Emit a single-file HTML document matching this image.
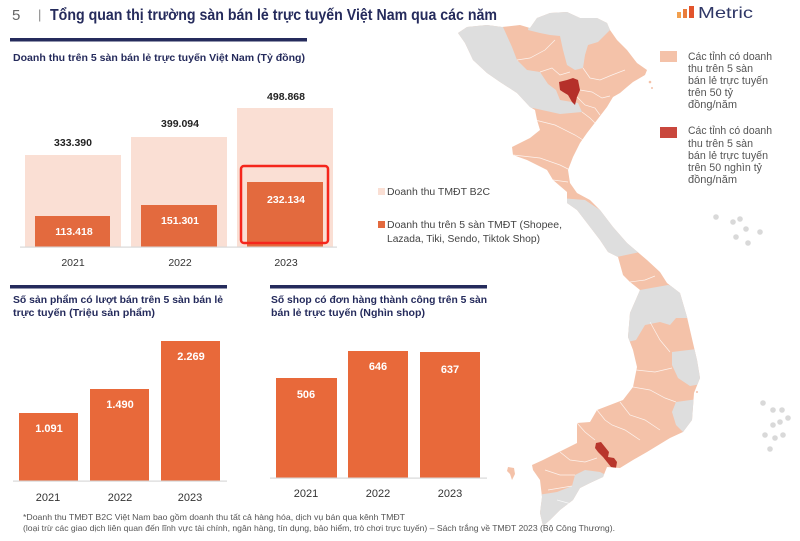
<!DOCTYPE html>
<html><head><meta charset="utf-8">
<style>
html,body{margin:0;padding:0;background:#fff;}
svg{display:block;}
text{font-family:"Liberation Sans","Noto Sans CJK SC",sans-serif;}
</style></head>
<body>
<svg width="800" height="541" viewBox="0 0 800 541" xmlns="http://www.w3.org/2000/svg">
<defs>
<clipPath id="vn">
<path id="vnpath" d="M458,33 L467,27 L487,25 L502,27 L520,25 L530,28 L537,18 L550,13 L567,12 L580,18 L597,18 L607,23 L610,30 L617,40 L627,50 L637,63 L647,70 L645,75 L633,82 L627,87 L620,93 L613,97 L607,107 L597,120 L587,133 L580,143 L573,157 L568,170 L570,183 L577,193 L590,200 L600,210 L613,227 L627,243 L647,260 L660,272 L667,283 L680,293 L687,317 L693,343 L697,360 L700,378 L694,393 L692,420 L683,432 L670,438 L647,452 L633,460 L620,468 L607,467 L603,477 L590,483 L580,488 L573,500 L560,510 L550,520 L543,526 L540,513 L542,497 L540,480 L533,470 L532,465 L543,460 L563,450 L577,443 L577,423 L590,422 L597,410 L623,400 L633,387 L637,367 L633,350 L628,337 L630,313 L637,297 L640,290 L630,282 L623,275 L618,257 L608,252 L600,240 L587,223 L577,210 L567,203 L567,192 L553,180 L547,170 L527,160 L513,155 L512,147 L530,138 L540,130 L537,120 L535,110 L530,107 L517,93 L500,82 L487,73 L473,60 L465,43 Z"/>
</clipPath>
</defs>

<!-- Header -->
<text x="12" y="20" font-size="15" fill="#666">5</text>
<text x="38" y="19" font-size="13" fill="#888">|</text>
<text x="50" y="20" font-size="16" font-weight="bold" fill="#252b5c" textLength="447" lengthAdjust="spacingAndGlyphs">Tổng quan thị trường sàn bán lẻ trực tuyến Việt Nam qua các năm</text>

<!-- Metric logo -->
<rect x="677" y="12" width="4" height="6" fill="#f2a04e"/>
<rect x="683" y="9" width="4" height="9" fill="#ea7c3a"/>
<rect x="689" y="6" width="5" height="12" fill="#e2542c"/>
<text x="698" y="18" font-size="16" fill="#2f3766" textLength="55" lengthAdjust="spacingAndGlyphs">Metric</text>

<!-- Top chart -->
<rect x="10" y="38" width="297" height="3.5" fill="#252b5c"/>
<text x="13" y="61" font-size="10.5" font-weight="bold" fill="#252b5c" textLength="292" lengthAdjust="spacingAndGlyphs">Doanh thu trên 5 sàn bán lẻ trực tuyến Việt Nam (Tỷ đồng)</text>

<rect x="25" y="155" width="96" height="92" fill="#fadfd4"/>
<rect x="131" y="137" width="96" height="110" fill="#fadfd4"/>
<rect x="237" y="108" width="96" height="139" fill="#fadfd4"/>
<rect x="35" y="216" width="75" height="31" fill="#e36a3e"/>
<rect x="141" y="205" width="76" height="42" fill="#e36a3e"/>
<rect x="247" y="182" width="76" height="65" fill="#e36a3e"/>
<rect x="20" y="246.5" width="317" height="1.2" fill="#d8d8d8"/>

<text x="73" y="146" font-size="10.5" font-weight="bold" fill="#222" text-anchor="middle">333.390</text>
<text x="180" y="127" font-size="10.5" font-weight="bold" fill="#222" text-anchor="middle">399.094</text>
<text x="286" y="100" font-size="10.5" font-weight="bold" fill="#222" text-anchor="middle">498.868</text>
<text x="74" y="235" font-size="10.5" font-weight="bold" fill="#fff" text-anchor="middle">113.418</text>
<text x="180" y="224" font-size="10.5" font-weight="bold" fill="#fff" text-anchor="middle">151.301</text>
<text x="286" y="203" font-size="10.5" font-weight="bold" fill="#fff" text-anchor="middle">232.134</text>
<text x="73" y="266" font-size="10.5" fill="#333" text-anchor="middle">2021</text>
<text x="180" y="266" font-size="10.5" fill="#333" text-anchor="middle">2022</text>
<text x="286" y="266" font-size="10.5" fill="#333" text-anchor="middle">2023</text>

<rect x="241" y="166" width="87" height="77" rx="3" fill="none" stroke="#f5261c" stroke-width="2.5"/>

<!-- mid legend -->
<rect x="378" y="188" width="7" height="7" fill="#fadfd4"/>
<text x="387" y="195" font-size="10" fill="#444" textLength="103" lengthAdjust="spacingAndGlyphs">Doanh thu TMĐT B2C</text>
<rect x="378" y="221" width="7" height="7" fill="#e36a3e"/>
<text x="387" y="228" font-size="10" fill="#444" textLength="175" lengthAdjust="spacingAndGlyphs">Doanh thu trên 5 sàn TMĐT (Shopee,</text>
<text x="387" y="242" font-size="10" fill="#444" textLength="153" lengthAdjust="spacingAndGlyphs">Lazada, Tiki, Sendo, Tiktok Shop)</text>

<!-- Bottom left chart -->
<rect x="10" y="285" width="217" height="3.5" fill="#252b5c"/>
<text x="13" y="303" font-size="10.5" font-weight="bold" fill="#252b5c" textLength="210" lengthAdjust="spacingAndGlyphs">Số sản phẩm có lượt bán trên 5 sàn bán lẻ</text>
<text x="13" y="316" font-size="10.5" font-weight="bold" fill="#252b5c" textLength="142" lengthAdjust="spacingAndGlyphs">trực tuyến (Triệu sản phẩm)</text>
<rect x="19" y="413" width="59" height="68" fill="#e8693a"/>
<rect x="90" y="389" width="59" height="92" fill="#e8693a"/>
<rect x="161" y="341" width="59" height="140" fill="#e8693a"/>
<rect x="13" y="480.5" width="214" height="1.2" fill="#d8d8d8"/>
<text x="49" y="432" font-size="11" font-weight="bold" fill="#fff" text-anchor="middle">1.091</text>
<text x="120" y="408" font-size="11" font-weight="bold" fill="#fff" text-anchor="middle">1.490</text>
<text x="191" y="360" font-size="11" font-weight="bold" fill="#fff" text-anchor="middle">2.269</text>
<text x="48" y="501" font-size="11" fill="#333" text-anchor="middle">2021</text>
<text x="120" y="501" font-size="11" fill="#333" text-anchor="middle">2022</text>
<text x="190" y="501" font-size="11" fill="#333" text-anchor="middle">2023</text>

<!-- Bottom right chart -->
<rect x="270" y="285" width="217" height="3.5" fill="#252b5c"/>
<text x="271" y="303" font-size="10.5" font-weight="bold" fill="#252b5c" textLength="216" lengthAdjust="spacingAndGlyphs">Số shop có đơn hàng thành công trên 5 sàn</text>
<text x="271" y="316" font-size="10.5" font-weight="bold" fill="#252b5c" textLength="154" lengthAdjust="spacingAndGlyphs">bán lẻ trực tuyến (Nghìn shop)</text>
<rect x="276" y="378" width="61" height="100" fill="#e8693a"/>
<rect x="348" y="351" width="60" height="127" fill="#e8693a"/>
<rect x="420" y="352" width="60" height="126" fill="#e8693a"/>
<rect x="270" y="477.5" width="217" height="1.2" fill="#d8d8d8"/>
<text x="306" y="398" font-size="11" font-weight="bold" fill="#fff" text-anchor="middle">506</text>
<text x="378" y="370" font-size="11" font-weight="bold" fill="#fff" text-anchor="middle">646</text>
<text x="450" y="373" font-size="11" font-weight="bold" fill="#fff" text-anchor="middle">637</text>
<text x="306" y="497" font-size="11" fill="#333" text-anchor="middle">2021</text>
<text x="378" y="497" font-size="11" fill="#333" text-anchor="middle">2022</text>
<text x="450" y="497" font-size="11" fill="#333" text-anchor="middle">2023</text>

<!-- Map -->
<g clip-path="url(#vn)">
  <rect x="440" y="0" width="280" height="541" fill="#f4c2a9"/>
  <polygon fill="#dedede" points="440,0 503,0 503,27 512,47 517,60 527,70 540,72 548,84 556,90 560,100 578,103 582,112 560,114 533,108 440,112"/>
  <polygon fill="#dedede" points="528,30 533,0 612,0 612,28 605,35 598,42 588,45 585,55 583,68 575,70 567,65 563,50 560,36 550,35 540,33"/>
  <polygon fill="#dedede" points="560,198 585,200 603,212 615,226 630,240 640,252 612,258 600,250 560,252"/>
  <polygon fill="#dedede" points="615,292 640,290 668,285 686,290 690,318 676,318 670,325 660,322 645,325 636,340 615,345"/>
  <polygon fill="#dedede" points="672,352 705,348 706,383 690,386 678,378 672,365"/>
  <polygon fill="#dedede" points="676,402 705,398 705,436 685,434 676,425 672,412"/>
  <polygon fill="#dedede" points="525,497 557,492 572,486 575,475 585,470 600,472 612,478 612,540 525,540"/>
  <polygon fill="#b5302a" points="559,82 567,80 573,78 578,80 580,90 577,97 575,105 572,102 568,95 563,92 560,90"/>
  <polygon fill="#b8362c" points="596,443 601,442 605,447 609,452 608,457 614,458 617,462 616,468 611,467 607,462 603,457 598,452 595,448"/>
  <g fill="none" stroke="#ffffff" stroke-width="0.7" opacity="0.8">
    <polyline points="517,60 530,58 545,50 555,40"/>
    <polyline points="540,72 552,68 560,75 570,72"/>
    <polyline points="583,68 590,78 600,80 612,75 625,70"/>
    <polyline points="580,90 592,92 602,98 610,96"/>
    <polyline points="577,97 585,105 595,108 600,115"/>
    <polyline points="582,112 590,118 597,125"/>
    <polyline points="535,120 555,125 575,135 583,140"/>
    <polyline points="513,155 540,158 560,165 570,170"/>
    <polyline points="553,180 568,182"/>
    <polyline points="630,282 645,280 655,276"/>
    <polyline points="650,322 660,340 670,352"/>
    <polyline points="636,370 655,372 672,368"/>
    <polyline points="633,387 650,390 665,398 676,402"/>
    <polyline points="620,402 630,415 645,420 660,430"/>
    <polyline points="597,410 605,420 612,425 625,430 640,440"/>
    <polyline points="577,423 585,432 595,440"/>
    <polyline points="560,452 570,460 585,462 597,458"/>
    <polyline points="545,470 560,475 575,475"/>
    <polyline points="548,490 560,488 572,486"/>
    <polyline points="557,500 575,505 590,510"/>
  </g>
</g>
<polygon fill="#f4c2a9" points="508,467 514,468 515,474 512,480 510,474 507,471"/>
<circle cx="650" cy="82" r="1.3" fill="#f4c2a9"/>
<circle cx="652" cy="88" r="1" fill="#f4c2a9"/>
<circle cx="697" cy="392" r="1" fill="#f4c2a9"/>

<g fill="#d9d9d9">
  <circle cx="716" cy="217" r="2.8"/>
  <circle cx="733" cy="222" r="2.8"/>
  <circle cx="740" cy="219" r="2.8"/>
  <circle cx="746" cy="229" r="2.8"/>
  <circle cx="760" cy="232" r="2.8"/>
  <circle cx="736" cy="237" r="2.8"/>
  <circle cx="748" cy="243" r="2.8"/>
  <circle cx="763" cy="403" r="2.8"/>
  <circle cx="773" cy="410" r="2.8"/>
  <circle cx="782" cy="410" r="2.8"/>
  <circle cx="788" cy="418" r="2.8"/>
  <circle cx="780" cy="422" r="2.8"/>
  <circle cx="773" cy="425" r="2.8"/>
  <circle cx="765" cy="435" r="2.8"/>
  <circle cx="775" cy="438" r="2.8"/>
  <circle cx="783" cy="435" r="2.8"/>
  <circle cx="770" cy="449" r="2.8"/>
</g>

<!-- Right legend -->
<rect x="660" y="51" width="17" height="11" fill="#f4c2a9"/>
<g font-size="11" fill="#555">
  <text x="688" y="60" textLength="84" lengthAdjust="spacingAndGlyphs">Các tỉnh có doanh</text>
  <text x="688" y="72" textLength="65" lengthAdjust="spacingAndGlyphs">thu trên 5 sàn</text>
  <text x="688" y="84" textLength="80" lengthAdjust="spacingAndGlyphs">bán lẻ trực tuyến</text>
  <text x="688" y="96" textLength="45" lengthAdjust="spacingAndGlyphs">trên 50 tỷ</text>
  <text x="688" y="108" textLength="49" lengthAdjust="spacingAndGlyphs">đồng/năm</text>
</g>
<rect x="660" y="127" width="17" height="11" fill="#c9473d"/>
<g font-size="11" fill="#555">
  <text x="688" y="134" textLength="84" lengthAdjust="spacingAndGlyphs">Các tỉnh có doanh</text>
  <text x="688" y="147" textLength="65" lengthAdjust="spacingAndGlyphs">thu trên 5 sàn</text>
  <text x="688" y="159" textLength="80" lengthAdjust="spacingAndGlyphs">bán lẻ trực tuyến</text>
  <text x="688" y="171" textLength="74" lengthAdjust="spacingAndGlyphs">trên 50 nghìn tỷ</text>
  <text x="688" y="183" textLength="49" lengthAdjust="spacingAndGlyphs">đồng/năm</text>
</g>

<!-- Footnote -->
<text x="23" y="520" font-size="8.5" fill="#555" textLength="382" lengthAdjust="spacingAndGlyphs">*Doanh thu TMĐT B2C Việt Nam bao gồm doanh thu tất cả hàng hóa, dịch vụ bán qua kênh TMĐT</text>
<text x="23" y="531" font-size="8.5" fill="#555" textLength="592" lengthAdjust="spacingAndGlyphs">(loại trừ các giao dịch liên quan đến lĩnh vực tài chính, ngân hàng, tín dụng, bảo hiểm, trò chơi trực tuyến) – Sách trắng về TMĐT 2023 (Bộ Công Thương).</text>
</svg>
</body></html>
